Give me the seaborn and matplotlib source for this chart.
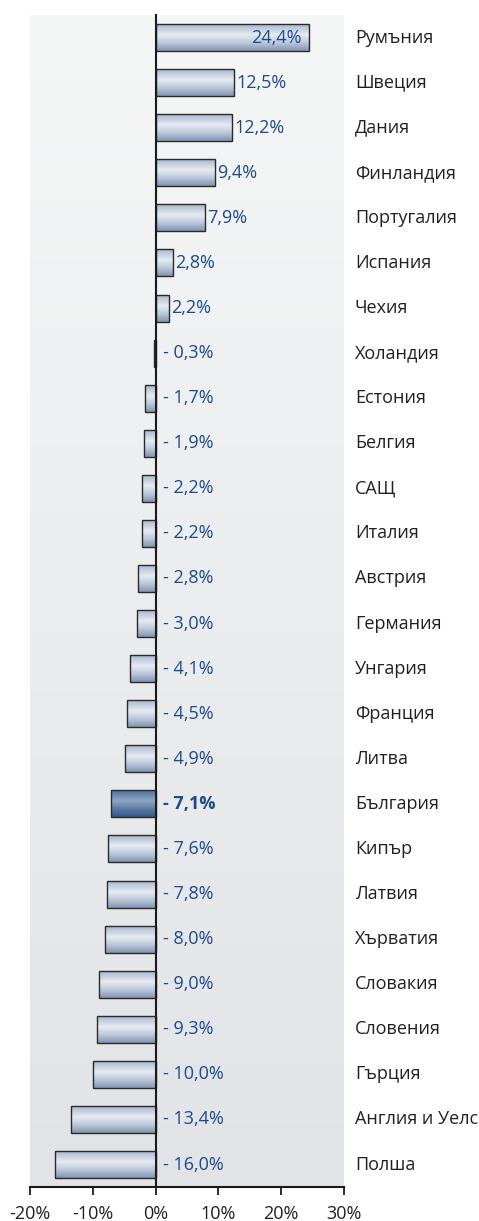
import numpy as np
import pandas as pd
import seaborn as sns
import matplotlib.pyplot as plt
from matplotlib.colors import LinearSegmentedColormap
from matplotlib import transforms

# --- Данни ---
countries = [
    "Румъния", "Швеция", "Дания", "Финландия", "Португалия", "Испания", "Чехия",
    "Холандия", "Естония", "Белгия", "САЩ", "Италия", "Австрия", "Германия",
    "Унгария", "Франция", "Литва", "България", "Кипър", "Латвия", "Хърватия",
    "Словакия", "Словения", "Гърция", "Англия и Уелс", "Полша",
]
values = [
    24.4, 12.5, 12.2, 9.4, 7.9, 2.8, 2.2, -0.3, -1.7, -1.9, -2.2, -2.2, -2.8,
    -3.0, -4.1, -4.5, -4.9, -7.1, -7.6, -7.8, -8.0, -9.0, -9.3, -10.0, -13.4, -16.0,
]
highlight = "България"
xticks = [-20, -10, 0, 10, 20, 30]

df = pd.DataFrame({"country": countries, "value": values})

sns.set_theme(style="white")
plt.rcParams["font.family"] = ["Open Sans", "DejaVu Sans"]

fig = plt.figure(figsize=(4.79, 12.21), dpi=100)
ax = fig.add_axes([0.0626, 0.0278, 0.6555, 0.9599])

sns.barplot(data=df, x="value", y="country", orient="h", width=0.6, ax=ax)

n = len(countries)
ax.set_xlim(-20, 30)
ax.set_ylim(n - 0.5, -0.5)

# фон с градиент
bg_cmap = LinearSegmentedColormap.from_list("bg", ["#f5f6f6", "#e2e3e6"])
ax.imshow(np.linspace(0, 1, 256).reshape(-1, 1), extent=[-20, 30, n - 0.5, -0.5],
          aspect="auto", cmap=bg_cmap, zorder=0)
ax.set_facecolor("none")

# барове с "цилиндричен" градиент
bar_cmap = LinearSegmentedColormap.from_list(
    "bar", [(0, "#a2b2ca"), (0.42, "#e6ebf2"), (0.7, "#bcc8da"), (1, "#8295b3")])
hl_cmap = LinearSegmentedColormap.from_list(
    "hl", [(0, "#46699a"), (0.42, "#8fa7c5"), (0.7, "#5c7ba6"), (1, "#335887")])
grad = np.linspace(0, 1, 100).reshape(-1, 1)
for patch, name in zip(ax.patches, countries):
    x0, y0 = patch.get_x(), patch.get_y()
    w, h = patch.get_width(), patch.get_height()
    cmap = hl_cmap if name == highlight else bar_cmap
    im = ax.imshow(grad, extent=[x0, x0 + w, y0 + h, y0], aspect="auto", cmap=cmap, zorder=2)
    im.set_clip_path(patch)
    patch.set_facecolor("none")
    patch.set_edgecolor("#2a2a2a")
    patch.set_linewidth(1.0)
    patch.set_zorder(3)

ax.set_xlim(-20, 30)
ax.set_ylim(n - 0.5, -0.5)

# етикети със стойности
for i, (name, v) in enumerate(zip(countries, values)):
    txt = f"{abs(v):.1f}".replace(".", ",") + "%"
    weight = "bold" if name == highlight else "normal"
    if v < 0:
        off = transforms.offset_copy(ax.transData, fig=fig, x=5, y=0, units="points")
        ax.text(0, i, "- " + txt, transform=off, ha="left", va="center",
                color="#1d4a8a", fontsize=13, fontweight=weight, zorder=5)
    elif v > 20:
        off = transforms.offset_copy(ax.transData, fig=fig, x=-5, y=0, units="points")
        ax.text(v, i, txt, transform=off, ha="right", va="center",
                color="#1d4a8a", fontsize=13, zorder=5)
    else:
        off = transforms.offset_copy(ax.transData, fig=fig, x=1.5, y=0, units="points")
        ax.text(v, i, txt, transform=off, ha="left", va="center",
                color="#1d4a8a", fontsize=13, zorder=5)

# имена на държавите вдясно
trans = transforms.blended_transform_factory(ax.transAxes, ax.transData)
for i, name in enumerate(countries):
    ax.text(1.035, i, name, transform=trans, ha="left", va="center",
            color="#231f20", fontsize=13)

# оси
for s in ["top", "right"]:
    ax.spines[s].set_visible(False)
ax.spines["left"].set_position(("data", 0))
ax.spines["left"].set_color("#1a1a1a")
ax.spines["left"].set_linewidth(1.5)
ax.spines["left"].set_zorder(4)
ax.spines["bottom"].set_color("#1a1a1a")
ax.spines["bottom"].set_linewidth(1.5)

ax.set_yticks(range(n))
ax.set_yticks(np.arange(-0.5, n, 1), minor=True)
ax.tick_params(axis="y", which="major", length=0, labelleft=False)
ax.tick_params(axis="y", which="minor", length=3.5, width=1.3, color="#1a1a1a", direction="out")

ax.set_xticks(xticks)
ax.set_xticklabels([f"{t}%" for t in xticks])
ax.tick_params(axis="x", which="major", length=6, width=1.3, color="#1a1a1a",
               direction="out", bottom=True, labelsize=13, labelcolor="#231f20", pad=7)

ax.set_xlabel("")
ax.set_ylabel("")

fig.savefig("out.png", dpi=100)
